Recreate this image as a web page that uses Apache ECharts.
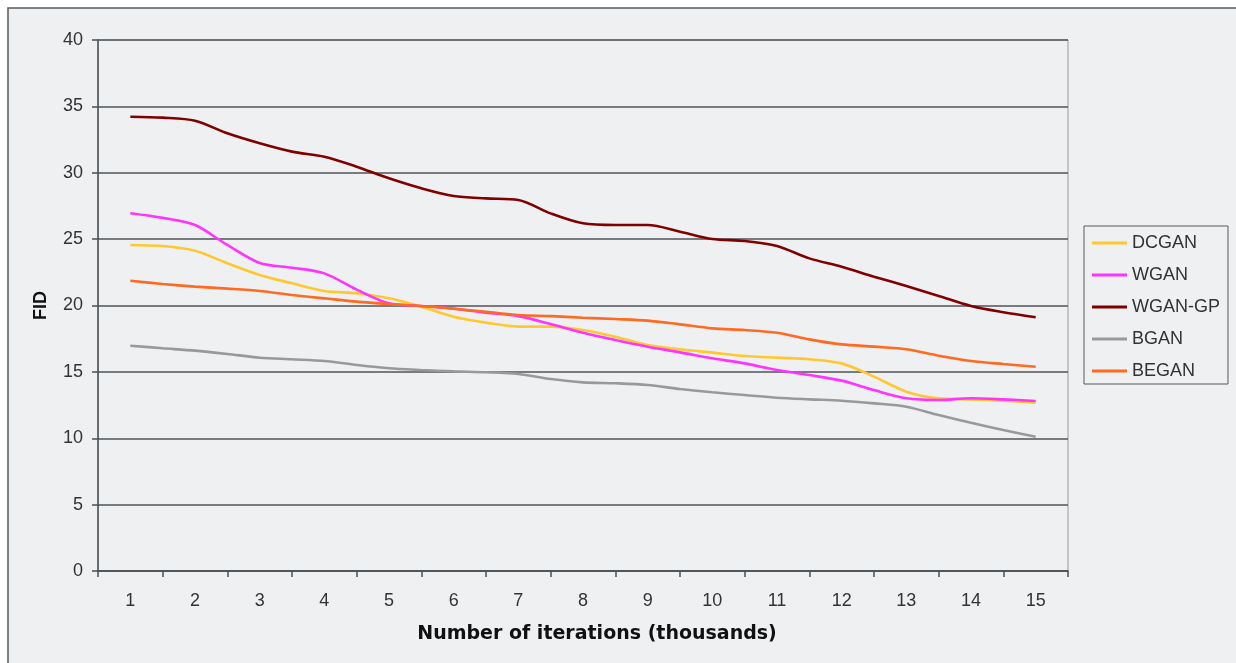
<!DOCTYPE html>
<html>
<head>
<meta charset="utf-8">
<script src="https://cdn.jsdelivr.net/npm/echarts@6/dist/echarts.min.js"></script>
<style>
html,body{margin:0;padding:0;background:#fff;}
#c{width:1236px;height:663px;}
</style>
</head>
<body>
<div id="c"></div>
<script>
var categories = ['1','2','3','4','5','6','7','8','9','10','11','12','13','14','15'];
var steps = [1,1.5,2,2.5,3,3.5,4,4.5,5,5.5,6,6.5,7,7.5,8,8.5,9,9.5,10,10.5,11,11.5,12,12.5,13,13.5,14,14.5,15];
var dcgan = [24.56,24.48,24.13,23.18,22.3,21.67,21.09,20.92,20.54,19.91,19.16,18.71,18.41,18.41,18.15,17.65,17.02,16.7,16.45,16.2,16.07,15.95,15.64,14.64,13.51,13.01,12.93,12.83,12.68];
var wgan = [26.95,26.6,26.06,24.56,23.2,22.85,22.42,21.2,20.16,19.96,19.76,19.46,19.2,18.6,17.95,17.4,16.9,16.47,16.02,15.64,15.14,14.76,14.34,13.63,13.01,12.88,13.01,12.93,12.81];
var wganGp = [34.22,34.15,33.92,32.97,32.22,31.59,31.21,30.46,29.58,28.83,28.25,28.07,27.95,26.94,26.19,26.06,26.06,25.56,25.01,24.86,24.48,23.55,22.92,22.17,21.47,20.72,19.96,19.49,19.11];
var bgan = [16.97,16.78,16.6,16.35,16.07,15.95,15.82,15.52,15.27,15.14,15.04,14.97,14.84,14.46,14.21,14.14,14.01,13.71,13.46,13.26,13.05,12.93,12.83,12.63,12.38,11.75,11.17,10.62,10.12];
var began = [21.87,21.62,21.42,21.27,21.09,20.79,20.54,20.29,20.11,19.96,19.76,19.53,19.28,19.2,19.08,18.98,18.86,18.58,18.28,18.15,17.95,17.45,17.07,16.9,16.7,16.22,15.82,15.59,15.39];
var seriesNames = ['DCGAN','WGAN','WGAN-GP','BGAN','BEGAN'];
var seriesColors = ['#ffc82e','#ff33ff','#800000','#999999','#ff6a21'];
var seriesValues = [dcgan, wgan, wganGp, bgan, began];

function pairs(vals){ return vals.map(function(v,i){ return [steps[i], v]; }); }

var FONT = '"Liberation Sans", Arial, Helvetica, sans-serif';
var chart = echarts.init(document.getElementById('c'), null, {renderer:'canvas'});
chart.setOption({
  backgroundColor: '#ffffff',
  animation: false,
  textStyle: {fontFamily: FONT},
  graphic: [{
    type: 'rect', z: -10, silent: true,
    shape: {x: 8, y: 8, width: 1300, height: 700},
    style: {fill: '#eff0f2', stroke: '#555a5e', lineWidth: 1.5}
  }],
  grid: {left: 98, right: 168, top: 40, bottom: 92, show: true, borderColor: '#9a9a9a', borderWidth: 1, backgroundColor: 'transparent'},
  legend: {
    orient: 'vertical', left: 1084, top: 226,
    data: seriesNames,
    icon: 'rect', itemWidth: 35, itemHeight: 3, itemGap: 12, itemStyle: {borderWidth: 0},
    padding: [7, 8, 3, 8],
    borderColor: '#555a5e', borderWidth: 1,
    textStyle: {fontSize: 18, color: '#333', fontFamily: FONT, lineHeight: 20}
  },
  xAxis: [{
    type: 'category', data: categories, boundaryGap: true,
    axisLine: {lineStyle: {color: '#4a4f54', width: 1.5}},
    axisTick: {show: true, length: 6, lineStyle: {color: '#4a4f54', width: 1.5}},
    axisLabel: {fontSize: 18, color: '#333', margin: 21, fontFamily: FONT},
    splitLine: {show: false},
    name: 'Number of iterations (thousands)', nameLocation: 'middle', nameGap: 54,
    nameTextStyle: {fontSize: 19, fontWeight: 'bold', color: '#111', fontFamily: '"DejaVu Sans", sans-serif', padding: [0, 0, 0, 28]}
  },{
    type: 'value', min: 0.5, max: 15.5, show: false
  }],
  yAxis: {
    type: 'value', min: 0, max: 40, interval: 5,
    axisLine: {show: true, lineStyle: {color: '#4a4f54', width: 1.5}},
    axisTick: {show: true, length: 6, lineStyle: {color: '#4a4f54', width: 1.5}},
    axisLabel: {fontSize: 18, color: '#333', margin: 15, fontFamily: FONT},
    splitLine: {show: true, lineStyle: {color: '#4f555a', width: 1.5}},
    name: 'FID', nameLocation: 'middle', nameGap: 48, nameRotate: 90,
    nameTextStyle: {fontSize: 18, fontWeight: 'bold', color: '#111', fontFamily: FONT}
  },
  series: seriesNames.map(function(n, i){
    return {
      name: n, type: 'line', xAxisIndex: 1,
      data: pairs(seriesValues[i]),
      smooth: 0.3, showSymbol: false, symbol: 'none',
      itemStyle: {color: seriesColors[i]},
      lineStyle: {color: seriesColors[i], width: 2.6}
    };
  })
});
</script>
</body>
</html>
